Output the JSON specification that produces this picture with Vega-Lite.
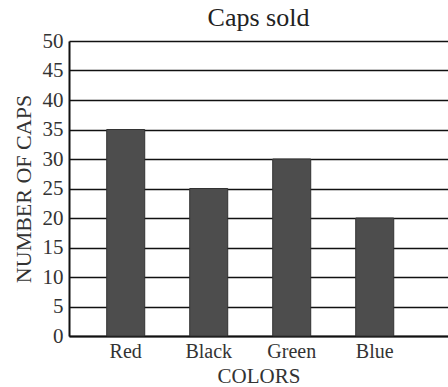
{
  "$schema": "https://vega.github.io/schema/vega-lite/v6.json",
  "autosize": {"type": "none"},
  "padding": {"left": 69, "top": 41, "right": 0, "bottom": 51},
  "width": 379,
  "height": 295,
  "background": "white",
  "title": {
    "text": "Caps sold",
    "font": "Liberation Serif",
    "fontSize": 26,
    "fontWeight": "normal",
    "color": "#222",
    "anchor": "middle",
    "frame": "group",
    "offset": -1
  },
  "data": {
    "values": [
      {"color": "Red", "caps": 35},
      {"color": "Black", "caps": 25},
      {"color": "Green", "caps": 30},
      {"color": "Blue", "caps": 20}
    ]
  },
  "mark": {"type": "bar", "fill": "#4d4d4d", "stroke": "#333", "strokeWidth": 1},
  "encoding": {
    "x": {
      "field": "color",
      "type": "nominal",
      "sort": null,
      "title": "COLORS",
      "scale": {"paddingInner": 0.542, "paddingOuter": 0.554, "align": 0.41},
      "axis": {
        "labelAngle": 0,
        "labelFont": "Liberation Serif",
        "labelFontSize": 20,
        "labelColor": "#333",
        "labelPadding": 5,
        "ticks": false,
        "domainColor": "#111",
        "domainWidth": 2,
        "titleFont": "Liberation Serif",
        "titleFontSize": 21,
        "titleFontWeight": "normal",
        "titleColor": "#333",
        "titlePadding": 4
      }
    },
    "y": {
      "field": "caps",
      "type": "quantitative",
      "title": "NUMBER OF CAPS",
      "scale": {"domain": [0, 50], "nice": false},
      "axis": {
        "values": [0, 5, 10, 15, 20, 25, 30, 35, 40, 45, 50],
        "labelFont": "Liberation Serif",
        "labelFontSize": 21,
        "labelColor": "#333",
        "labelPadding": 6,
        "ticks": false,
        "grid": true,
        "gridColor": "#111",
        "gridWidth": 1.5,
        "gridOpacity": 1,
        "domainColor": "#111",
        "domainWidth": 2,
        "titleFont": "Liberation Serif",
        "titleFontSize": 22,
        "titleFontWeight": "normal",
        "titleColor": "#333",
        "titlePadding": 7
      }
    }
  },
  "config": {"view": {"stroke": null}}
}
